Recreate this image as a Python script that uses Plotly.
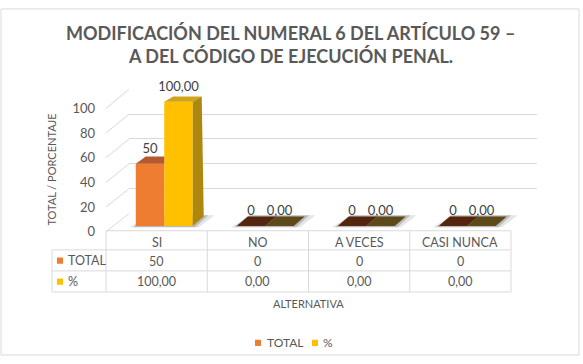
import plotly.graph_objects as go

# ---------------- data ----------------
categories = ["SI", "NO", "A VECES", "CASI NUNCA"]
total = [50, 0, 0, 0]
pct = [100.00, 0.00, 0.00, 0.00]
series_names = ["TOTAL", "%"]
y_ticks = [0, 20, 40, 60, 80, 100]
title_lines = ["MODIFICACIÓN DEL NUMERAL 6 DEL ARTÍCULO 59 –",
               "A DEL CÓDIGO DE EJECUCIÓN PENAL."]
y_title = "TOTAL / PORCENTAJE"
x_title = "ALTERNATIVA"


def fmt_int(v):
    return f"{v:d}"


def fmt_pct(v):
    return f"{v:.2f}".replace(".", ",")


# ---------------- layout helpers ----------------
W, H = 583, 364
FONT = "Lato"
TXT = "#595959"
GRID = "#d9d9d9"
ORANGE = "#EE7D31"
YELLOW = "#FFC000"
ORANGE_TOP = "#B65A2E"
YELLOW_TOP = "#CFA418"
YELLOW_SIDE = "#AE880E"
ORANGE_ZERO = "#54260F"
YELLOW_ZERO = "#5E4A18"
SERIES_COLORS = [ORANGE, YELLOW]


def px(x):
    return x / W


def py(y):
    return 1 - y / H


# front plane (table + tick labels)
FX0, FX1 = 106, 511
FY0, FY100 = 234, 105
# back wall
BX0, BX1 = 129, 537
BY0, BY100 = 215, 85
# bar plane
CAT0, CATW, PXU, BARY0 = 164.25, 101.0, 1.3, 228
X3R = [-0.6, 3.6]
Y3R = [-2, 118]
BW = 0.282  # bar width in category units

fig = go.Figure()

# back wall subplot (gridlines)
fig.add_trace(go.Scatter(x=[0.5], y=[50], mode="markers", marker=dict(opacity=0),
                         showlegend=False, hoverinfo="skip", xaxis="x", yaxis="y"))
# front subplot (tick labels)
fig.add_trace(go.Scatter(x=[0], y=[0], mode="markers", marker=dict(opacity=0),
                         showlegend=False, hoverinfo="skip", xaxis="x2", yaxis="y2"))

xs = list(range(len(categories)))
fig.add_trace(go.Bar(x=xs, y=total, width=BW, offset=-BW, name=series_names[0],
                     marker=dict(color=ORANGE, line=dict(width=0)), showlegend=False,
                     xaxis="x3", yaxis="y3", hoverinfo="skip"))
fig.add_trace(go.Bar(x=xs, y=pct, width=BW, offset=0, name=series_names[1],
                     marker=dict(color=YELLOW, line=dict(width=0)), showlegend=False,
                     xaxis="x3", yaxis="y3", hoverinfo="skip"))

# data labels
LABEL_OFF = 14.5 / PXU
fig.add_trace(go.Scatter(
    x=[i - BW / 2 for i in xs] + [i + BW / 2 for i in xs],
    y=[v + LABEL_OFF for v in total] + [v + LABEL_OFF for v in pct],
    text=[fmt_int(v) for v in total] + [fmt_pct(v) for v in pct],
    mode="text", textposition="middle center", cliponaxis=False,
    textfont=dict(family=FONT, size=13, color="#404040"),
    showlegend=False, hoverinfo="skip", xaxis="x3", yaxis="y3"))


def depth(v):
    # perspective depth offsets (in axis units) of a bar top at value v
    dxp = 11 - 0.02 * v
    dyp = 10 - 0.045 * v
    return dxp / CATW, dyp / PXU


shapes = []
# floor shadows (below bars)
for i in xs:
    x0, x2 = i - BW, i + BW
    dx0, dy0 = depth(0)
    for grow, alpha in ((0.06, 0.12), (0.025, 0.22)):
        path = (f"M{x0 - grow},{-1} L{x2 + grow},{-1} "
                f"L{x2 + dx0 + grow * 1.8},{dy0 + 1} L{x0 + dx0 + grow * 0.5},{dy0 + 1} Z")
        shapes.append(dict(type="path", path=path, xref="x3", yref="y3", layer="below",
                           fillcolor=f"rgba(40,40,40,{alpha})", line=dict(width=0)))

# 3D top / side faces
for i, (a, b) in enumerate(zip(total, pct)):
    x0, x1, x2 = i - BW, i, i + BW
    dx, dy = depth(a)
    col = ORANGE_TOP if a > 0 else ORANGE_ZERO
    if b > a:
        path = f"M{x0},{a} L{x1},{a} L{x1},{a + dy} L{x0 + dx},{a + dy} Z"
    else:
        path = f"M{x0},{a} L{x1},{a} L{x1 + dx},{a + dy} L{x0 + dx},{a + dy} Z"
    shapes.append(dict(type="path", path=path, xref="x3", yref="y3",
                       fillcolor=col, line=dict(width=0)))
    dx, dy = depth(b)
    col = YELLOW_TOP if b > 0 else YELLOW_ZERO
    path = f"M{x1},{b} L{x2},{b} L{x2 + dx},{b + dy} L{x1 + dx},{b + dy} Z"
    shapes.append(dict(type="path", path=path, xref="x3", yref="y3",
                       fillcolor=col, line=dict(width=0)))
    if b > 0:
        dxb, dyb = depth(0)
        path = f"M{x2},0 L{x2},{b} L{x2 + dx},{b + dy} L{x2 + dxb},{dyb} Z"
        shapes.append(dict(type="path", path=path, xref="x3", yref="y3",
                           fillcolor=YELLOW_SIDE, line=dict(width=0)))

# side wall gridlines (front -> back)
for v in y_ticks:
    yf = FY0 + (FY100 - FY0) * v / 100
    yb = BY0 + (BY100 - BY0) * v / 100
    shapes.append(dict(type="line", xref="paper", yref="paper", layer="below",
                       x0=px(FX0), y0=py(yf), x1=px(BX0), y1=py(yb),
                       line=dict(color=GRID, width=1)))

# data table grid
RH0, RH1, RT, RP = 233, 253, 275, 297
TBL_L = 52
col_bounds = [FX0 + k * (FX1 - FX0) / len(categories) for k in range(len(categories) + 1)]


def hline(x0, x1, y):
    shapes.append(dict(type="line", xref="paper", yref="paper", layer="below",
                       x0=px(x0), x1=px(x1), y0=py(y), y1=py(y),
                       line=dict(color=GRID, width=1)))


def vline(x, y0, y1):
    shapes.append(dict(type="line", xref="paper", yref="paper", layer="below",
                       x0=px(x), x1=px(x), y0=py(y0), y1=py(y1),
                       line=dict(color=GRID, width=1)))


hline(FX0, FX1, RH0)
hline(TBL_L, FX1, RH1)
hline(TBL_L, FX1, RT)
hline(TBL_L, FX1, RP)
for cb in col_bounds:
    vline(cb, RH0, RP)
vline(TBL_L, RH1, RP)

# legend keys inside table
for color, yc in zip(SERIES_COLORS, ((RH1 + RT) / 2, (RT + RP) / 2)):
    shapes.append(dict(type="rect", xref="paper", yref="paper",
                       x0=px(57), x1=px(63), y0=py(yc + 3.5), y1=py(yc - 3),
                       fillcolor=color, line=dict(width=0)))

# bottom legend keys
LEG_Y = 350
leg_key_x = [255, 312]
leg_text_x = [265, 321]
for color, kx in zip(SERIES_COLORS, leg_key_x):
    shapes.append(dict(type="rect", xref="paper", yref="paper",
                       x0=px(kx), x1=px(kx + 6), y0=py(LEG_Y + 3.5), y1=py(LEG_Y - 3),
                       fillcolor=color, line=dict(width=0)))

# outer frame
shapes.append(dict(type="rect", xref="paper", yref="paper", layer="below",
                   x0=px(1), x1=px(579), y0=py(363), y1=py(1),
                   line=dict(color=GRID, width=1), fillcolor="rgba(0,0,0,0)"))

annotations = []
for line, yc in zip(title_lines, (26.5, 50.5)):
    annotations.append(dict(text=f"<b>{line}</b>", xref="paper", yref="paper",
                            x=px(290), y=py(yc), xanchor="center", yanchor="middle",
                            showarrow=False, font=dict(family=FONT, size=18, color=TXT)))
annotations.append(dict(text=y_title, xref="paper", yref="paper", x=px(52), y=py(169),
                        textangle=-90, xanchor="center", yanchor="middle", showarrow=False,
                        font=dict(family=FONT, size=11, color=TXT)))
annotations.append(dict(text=x_title, xref="paper", yref="paper",
                        x=px((FX0 + FX1) / 2), y=py(309), xanchor="center", yanchor="middle",
                        showarrow=False, font=dict(family=FONT, size=11, color=TXT)))
for i, cat in enumerate(categories):
    for txt, yc in ((cat, 245), (fmt_int(total[i]), 265), (fmt_pct(pct[i]), 286)):
        annotations.append(dict(text=txt, xref="x2", yref="paper", x=i, y=py(yc),
                                xanchor="center", yanchor="middle", showarrow=False,
                                font=dict(family=FONT, size=12.5, color=TXT)))
for name, yc in zip(series_names, (264.5, 286)):
    annotations.append(dict(text=name, xref="paper", yref="paper", x=px(66), y=py(yc),
                            xanchor="left", yanchor="middle", showarrow=False,
                            font=dict(family=FONT, size=12.5, color=TXT)))
for name, tx in zip(series_names, leg_text_x):
    annotations.append(dict(text=name, xref="paper", yref="paper", x=px(tx), y=py(LEG_Y),
                            xanchor="left", yanchor="middle", showarrow=False,
                            font=dict(family=FONT, size=12, color=TXT)))

fig.update_layout(
    width=W, height=H, autosize=False,
    margin=dict(l=0, r=0, t=0, b=0),
    paper_bgcolor="white", plot_bgcolor="rgba(0,0,0,0)",
    barmode="overlay", hovermode=False, showlegend=False,
    font=dict(family=FONT, color=TXT),
    xaxis=dict(domain=[px(BX0), px(BX1)], range=[0, 1], visible=False, fixedrange=True),
    yaxis=dict(domain=[py(BY0 + 0.5 * PXU), py(BY100 - 0.5 * PXU)], range=[-0.5, 100.5],
               showgrid=True, gridcolor=GRID, gridwidth=1, dtick=20, tick0=0,
               zeroline=False, showline=False, showticklabels=False, ticks="",
               anchor="x", fixedrange=True),
    xaxis2=dict(domain=[px(FX0), px(FX1)], range=[-0.5, len(categories) - 0.5],
                visible=False, anchor="y2", fixedrange=True),
    yaxis2=dict(domain=[py(FY0), py(FY100)], range=[0, 100], anchor="x2",
                tickvals=y_ticks, ticktext=[str(v) for v in y_ticks],
                showgrid=False, zeroline=False, showline=False, ticks="",
                ticklabelstandoff=10, tickfont=dict(family=FONT, size=13, color=TXT),
                fixedrange=True),
    xaxis3=dict(domain=[px(CAT0 + X3R[0] * CATW), px(CAT0 + X3R[1] * CATW)], range=X3R,
                visible=False, anchor="y3", fixedrange=True),
    yaxis3=dict(domain=[py(BARY0 - Y3R[0] * PXU), py(BARY0 - Y3R[1] * PXU)], range=Y3R,
                visible=False, anchor="x3", fixedrange=True),
    shapes=shapes,
    annotations=annotations,
)

fig.write_html("out.html")
